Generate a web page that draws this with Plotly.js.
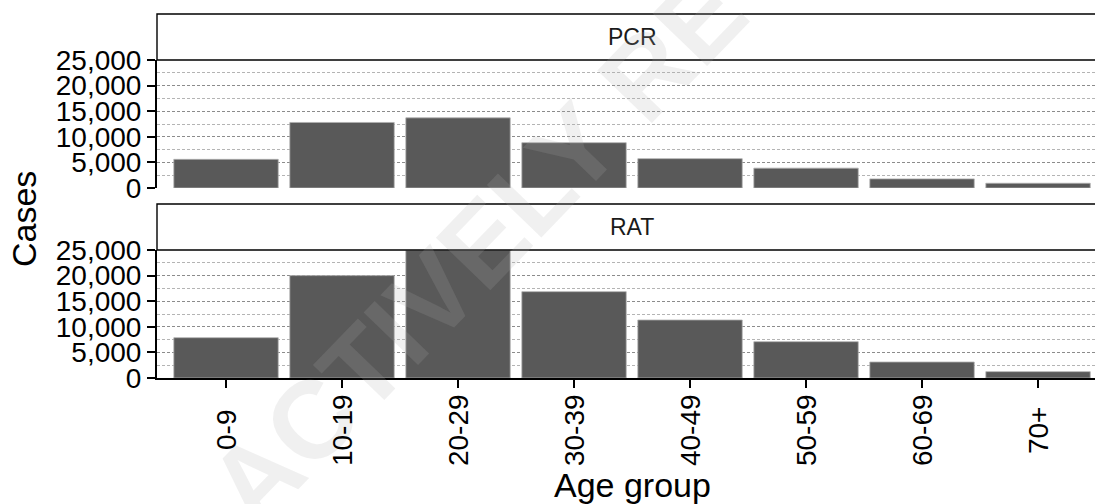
<!DOCTYPE html>
<html>
<head>
<meta charset="utf-8">
<script src="https://cdn.plot.ly/plotly-3.0.1.min.js"></script>
<style>
  html, body { margin: 0; padding: 0; background: #fff; }
  #chart { width: 1095px; height: 504px; }
</style>
</head>
<body>
<div id="chart"></div>
<script>
// Case counts by age group, split by test type
const ageGroups = ['0-9', '10-19', '20-29', '30-39', '40-49', '50-59', '60-69', '70+'];
const pcrCases = [5600, 12800, 13700, 8850, 5730, 3880, 1780, 930];
const ratCases = [7870, 20000, 24900, 16860, 11330, 7090, 3120, 1240];
const panelLabels = ['PCR', 'RAT'];
const yTicks = [0, 5000, 10000, 15000, 20000, 25000];

const W = 1095, H = 504;
const FONT = 'Liberation Sans, Arial, Helvetica, sans-serif';
const px = v => v / W;          // horizontal pixel -> paper
const py = v => 1 - v / H;      // vertical pixel -> paper

const barStyle = {
  color: '#595959',
  line: { color: '#b0b0b0', width: 0.8 }
};

const traces = [
  { type: 'bar', x: ageGroups, y: pcrCases, xaxis: 'x2', yaxis: 'y2',
    marker: barStyle, width: 0.9, hoverinfo: 'x+y' },
  { type: 'bar', x: ageGroups, y: ratCases, xaxis: 'x', yaxis: 'y',
    marker: barStyle, width: 0.9, hoverinfo: 'x+y' }
];

const xRange = [-0.595, 7.491];
const xDomain = [px(157), 1];

const yCommon = {
  range: [0, 25000],
  tickvals: yTicks,
  tickformat: ',d',
  tickfont: { family: FONT, size: 28, color: '#000' },
  ticks: 'outside', ticklen: 8, tickwidth: 2, tickcolor: '#000',
  showline: true, linecolor: '#000', linewidth: 2,
  zeroline: false,
  showgrid: true, gridcolor: '#8c8c8c', gridwidth: 1, griddash: '3px,2px',
  minor: { dtick: 2500, showgrid: true, gridcolor: '#b4b4b4', gridwidth: 1, griddash: '3px,2px', ticks: '' },
  fixedrange: true,
  automargin: false
};

// Category labels under the lower panel, rotated and centred on each tick
const xLabelAnnotations = ageGroups.map(g => ({
  text: g, xref: 'x', yref: 'paper', x: g, y: py(430),
  xanchor: 'center', yanchor: 'middle', textangle: -90,
  showarrow: false, font: { family: FONT, size: 28, color: '#000' }
}));

const layout = {
  width: W, height: H,
  margin: { l: 0, r: 0, t: 0, b: 0, pad: 0 },
  paper_bgcolor: '#fff', plot_bgcolor: '#fff',
  showlegend: false,
  bargap: 0.1,
  xaxis: {
    domain: xDomain, range: xRange, anchor: 'y',
    type: 'category',
    showticklabels: false,
    ticks: 'outside', ticklen: 8, tickwidth: 2, tickcolor: '#000',
    showline: true, linecolor: '#000', linewidth: 2,
    showgrid: false, zeroline: false, automargin: false, fixedrange: true
  },
  xaxis2: {
    domain: xDomain, range: xRange, anchor: 'y2',
    type: 'category', matches: 'x',
    showticklabels: false, ticks: '',
    showline: false, showgrid: false, zeroline: false, automargin: false, fixedrange: true
  },
  yaxis: Object.assign({}, yCommon, { domain: [py(378), py(250)], anchor: 'x' }),
  yaxis2: Object.assign({}, yCommon, { domain: [py(188), py(60)], anchor: 'x2' }),
  shapes: [
    // facet strips
    { type: 'rect', xref: 'paper', yref: 'paper', x0: px(157), x1: px(1110), y0: py(60), y1: py(14),
      fillcolor: '#fff', line: { color: '#000', width: 1.4 }, layer: 'above' },
    { type: 'rect', xref: 'paper', yref: 'paper', x0: px(157), x1: px(1110), y0: py(250), y1: py(204),
      fillcolor: '#fff', line: { color: '#000', width: 1.4 }, layer: 'above' }
  ],
  annotations: [
    { text: panelLabels[0], xref: 'paper', yref: 'paper', x: px(632), y: py(37),
      xanchor: 'center', yanchor: 'middle',
      showarrow: false, font: { family: FONT, size: 23, color: '#1a1a1a' } },
    { text: panelLabels[1], xref: 'paper', yref: 'paper', x: px(632), y: py(227),
      xanchor: 'center', yanchor: 'middle',
      showarrow: false, font: { family: FONT, size: 23, color: '#1a1a1a' } },
    { text: 'Cases', xref: 'paper', yref: 'paper', x: px(24), y: py(219), textangle: -90,
      xanchor: 'center', yanchor: 'middle',
      showarrow: false, font: { family: FONT, size: 34, color: '#000' } },
    { text: 'Age group', xref: 'paper', yref: 'paper', x: px(632), y: py(485),
      xanchor: 'center', yanchor: 'middle',
      showarrow: false, font: { family: FONT, size: 34, color: '#000' } },
    // faint diagonal watermark
    { text: 'ACTIVELY RE', xref: 'paper', yref: 'paper', x: px(476), y: py(249), textangle: -46,
      xanchor: 'center', yanchor: 'middle',
      showarrow: false, font: { family: FONT, size: 110, weight: 'bold', color: 'rgba(170,170,170,0.18)' } }
  ].concat(xLabelAnnotations)
};

Plotly.newPlot('chart', traces, layout, { displayModeBar: false, staticPlot: true });
</script>
</body>
</html>
